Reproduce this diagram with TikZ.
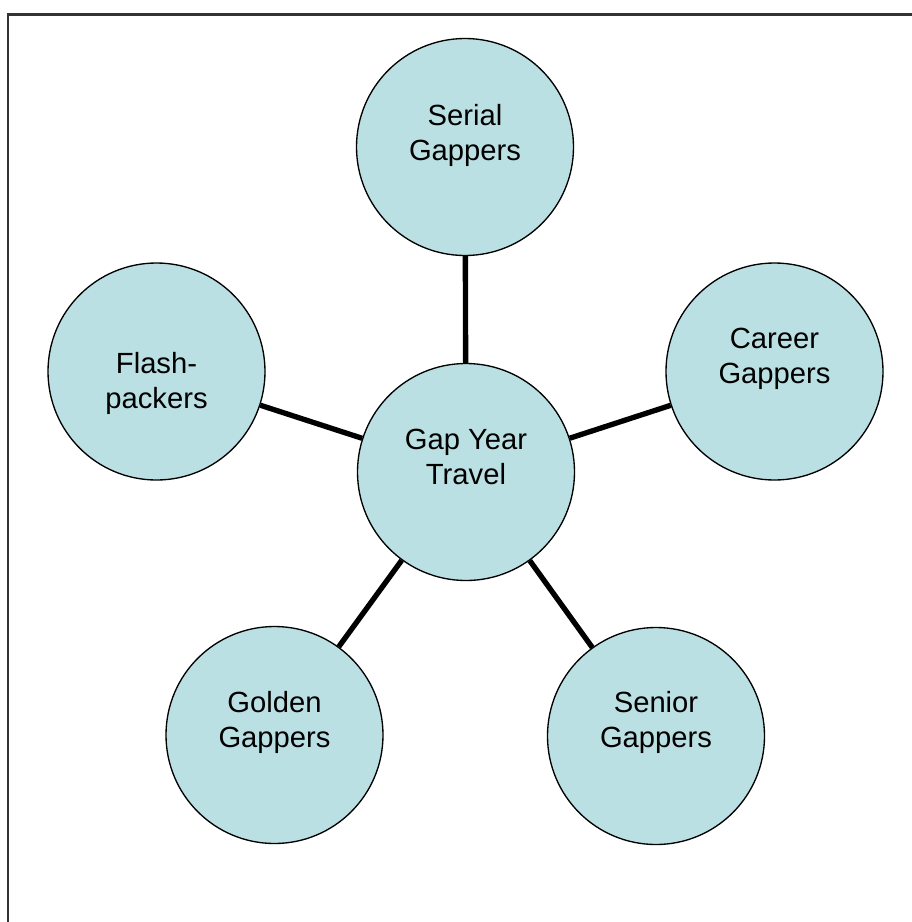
\documentclass[tikz,border=0pt]{standalone}
\usepackage{fontspec}
\setmainfont{Liberation Sans}
\usetikzlibrary{calc}
\definecolor{bubblefill}{RGB}{187,224,227}
\definecolor{framegray}{RGB}{51,51,51}
\begin{document}
\begin{tikzpicture}[x=0.75pt,y=-0.75pt,
  bubble/.style={circle,draw=black,line width=1pt,fill=bubblefill,
                 minimum size=162.75pt,inner sep=0pt},
  caption/.style={align=center,inner sep=0pt,
                  font=\fontsize{21.9}{26.25}\selectfont},
  spoke/.style={line width=4pt,black}]
\useasboundingbox (0,0) rectangle (912,922);
% partial page frame (top and left edges)
\draw[framegray,line width=1.6pt] (8,922) -- (8,14.5) -- (912,14.5);

% circles
\node[bubble] (hub)    at (466,472)   {};
\node[bubble] (serial) at (465,147)   {};
\node[bubble] (career) at (774.5,371.5) {};
\node[bubble] (flash)  at (156.5,371.5) {};
\node[bubble] (golden) at (274.5,735) {};
\node[bubble] (senior) at (656,736)   {};

% spokes from the hub to each circle
\draw[spoke] (hub) -- (serial);
\draw[spoke] (hub) -- (career);
\draw[spoke] (hub) -- (flash);
\draw[spoke] (hub) -- (golden);
\draw[spoke] (hub) -- (senior);

% captions
\node[caption] (hub-t)    at ($(hub)+(0,-12.5)$)    {\strut Gap Year\\\strut Travel};
\node[caption] (serial-t) at ($(serial)+(0,-11.5)$) {\strut Serial\\\strut Gappers};
\node[caption] (career-t) at ($(career)+(0,-13)$)   {\strut Career\\\strut Gappers};
\node[caption] (flash-t)  at ($(flash)+(0,12)$)     {\strut Flash-\\\strut packers};
\node[caption] (golden-t) at ($(golden)+(0,-12.5)$) {\strut Golden\\\strut Gappers};
\node[caption] (senior-t) at ($(senior)+(0,-13.5)$) {\strut Senior\\\strut Gappers};
\end{tikzpicture}
\end{document}
